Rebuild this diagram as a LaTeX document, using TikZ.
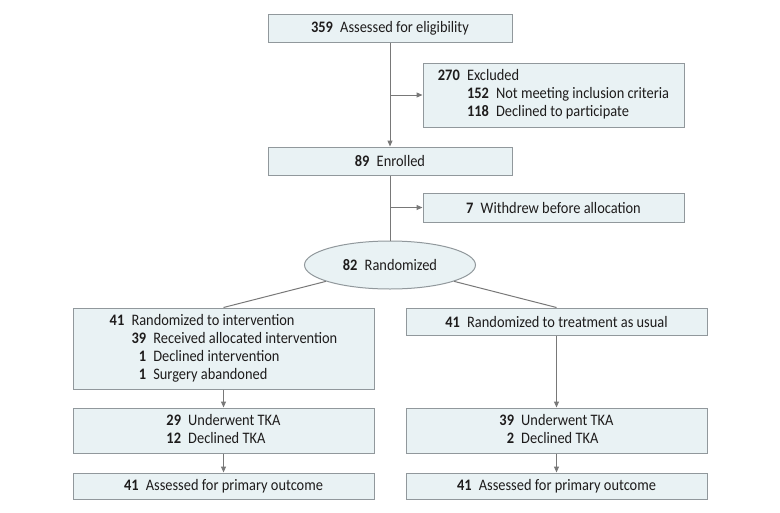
\documentclass[tikz,border=0pt]{standalone}
\usepackage{fontspec}
\setmainfont[FakeStretch=0.9]{Carlito}
\usetikzlibrary{shapes.geometric,arrows.meta}

\definecolor{boxfill}{RGB}{233,242,244}
\definecolor{boxline}{RGB}{145,152,156}
\definecolor{flowline}{RGB}{120,120,120}
\definecolor{boxtext}{RGB}{30,28,28}
\newcommand{\boldnum}[1]{\textbf{#1}\hspace{0.45em}}

\begin{document}
\begin{tikzpicture}[x=1pt, y=-1pt,
    box/.style={draw=boxline, fill=boxfill, line width=1pt, inner sep=0pt,
      text=boxtext, font=\fontsize{16}{18}\selectfont, align=center},
    topbox/.style={box, minimum width=244pt, minimum height=28pt},
    sidebox/.style={box, minimum width=261pt},
    armbox/.style={box, minimum width=301pt},
    flow/.style={draw=flowline, line width=1pt},
    flowarrow/.style={flow, -{Triangle[length=6pt, width=5pt]}}]
    \useasboundingbox (0,0) rectangle (780,512);

    % Define the positions of the boxes
    \coordinate (eligPos) at (390, 28);
    \coordinate (exclPos) at (553.5, 95);
    \coordinate (enrolPos) at (390, 161);
    \coordinate (withdrPos) at (553.5, 207.5);
    \coordinate (randPos) at (390, 265);
    \coordinate (intervPos) at (223.5, 348.5);
    \coordinate (usualPos) at (556.5, 321.5);
    \coordinate (tkaLPos) at (223.5, 430.5);
    \coordinate (tkaRPos) at (556.5, 430.5);
    \coordinate (outLPos) at (223.5, 486);
    \coordinate (outRPos) at (556.5, 486);

    % Draw the boxes
    \node[topbox] (elig) at (eligPos) {\boldnum{359}Assessed for eligibility};
    \node[sidebox, minimum height=64pt] (excl) at (exclPos) {%
      \begin{tabular}{@{}r@{\hspace{0.45em}}r@{\hspace{0.45em}}l@{}}
        \textbf{270} & \multicolumn{2}{@{}l@{}}{Excluded}\\
        & \textbf{152} & Not meeting inclusion criteria\\
        & \textbf{118} & Declined to participate
      \end{tabular}};
    \node[topbox] (enrol) at (enrolPos) {\boldnum{89}Enrolled};
    \node[sidebox, minimum height=29pt] (withdr) at (withdrPos) {\boldnum{7}Withdrew before allocation};
    \node[box, ellipse, minimum width=171pt, minimum height=48pt] (rand) at (randPos) {\boldnum{82}Randomized};
    \node[armbox, minimum height=81pt] (interv) at (intervPos) {%
      \begin{tabular}{@{}r@{\hspace{0.45em}}r@{\hspace{0.45em}}l@{}}
        \textbf{41} & \multicolumn{2}{@{}l@{}}{Randomized to intervention}\\
        & \textbf{39} & Received allocated intervention\\
        & \textbf{1} & Declined intervention\\
        & \textbf{1} & Surgery abandoned
      \end{tabular}};
    \node[armbox, minimum height=27pt] (usual) at (usualPos) {\boldnum{41}Randomized to treatment as usual};
    \node[armbox, minimum height=45pt] (tkaL) at (tkaLPos) {%
      \begin{tabular}{@{}r@{\hspace{0.45em}}l@{}}
        \textbf{29} & Underwent TKA\\
        \textbf{12} & Declined TKA
      \end{tabular}};
    \node[armbox, minimum height=45pt] (tkaR) at (tkaRPos) {%
      \begin{tabular}{@{}r@{\hspace{0.45em}}l@{}}
        \textbf{39} & Underwent TKA\\
        \textbf{2} & Declined TKA
      \end{tabular}};
    \node[armbox, minimum height=26pt] (outL) at (outLPos) {\boldnum{41}Assessed for primary outcome};
    \node[armbox, minimum height=26pt] (outR) at (outRPos) {\boldnum{41}Assessed for primary outcome};

    % Draw the lines
    \draw[flowarrow] (elig.south) -- (enrol.north);
    \draw[flowarrow] (excl.west -| elig.south) -- (excl.west);
    \draw[flow] (enrol.south) -- (rand.north);
    \draw[flowarrow] (withdr.west -| enrol.south) -- (withdr.west);
    \draw[flow] (rand) -- (interv.north);
    \draw[flow] (rand) -- (usual.north);
    \draw[flowarrow] (interv.south) -- (tkaL.north);
    \draw[flowarrow] (tkaL.south) -- (outL.north);
    \draw[flowarrow] (usual.south) -- (tkaR.north);
    \draw[flowarrow] (tkaR.south) -- (outR.north);
  \end{tikzpicture}
\end{document}
